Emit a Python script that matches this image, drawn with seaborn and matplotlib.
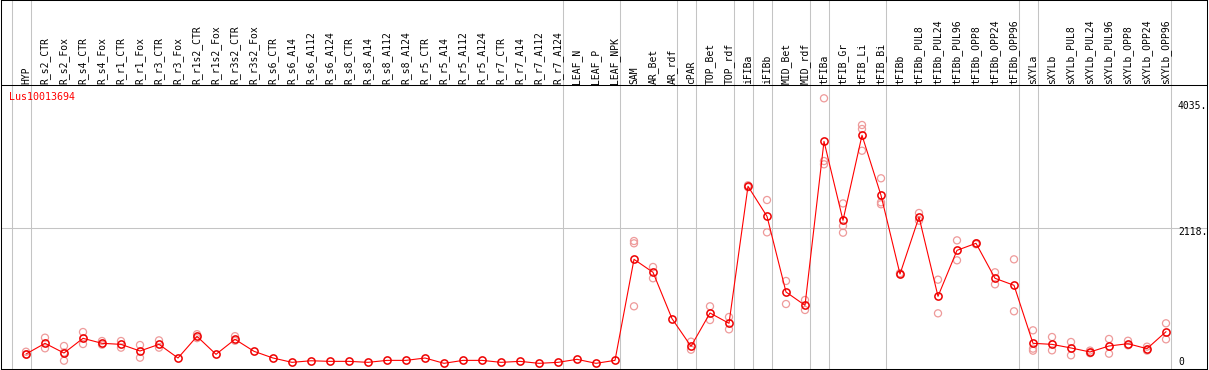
import numpy as np
import pandas as pd
import matplotlib
matplotlib.use("Agg")
import matplotlib.pyplot as plt
import seaborn as sns

categories = ["HYP", "R_s2_CTR", "R_s2_Fox", "R_s4_CTR", "R_s4_Fox", "R_r1_CTR", "R_r1_Fox",
              "R_r3_CTR", "R_r3_Fox", "R_r1s2_CTR", "R_r1s2_Fox", "R_r3s2_CTR", "R_r3s2_Fox",
              "R_s6_CTR", "R_s6_A14", "R_s6_A112", "R_s6_A124", "R_s8_CTR", "R_s8_A14", "R_s8_A112",
              "R_s8_A124", "R_r5_CTR", "R_r5_A14", "R_r5_A112", "R_r5_A124", "R_r7_CTR", "R_r7_A14",
              "R_r7_A112", "R_r7_A124", "LEAF_N", "LEAF_P", "LEAF_NPK", "SAM", "AR_Bet", "AR_rdf",
              "cPAR", "TOP_Bet", "TOP_rdf", "iFIBa", "iFIBb", "MID_Bet", "MID_rdf", "tFIBa",
              "tFIB_Gr", "tFIB_Li", "tFIB_Bi", "tFIBb", "tFIBb_PUL8", "tFIBb_PUL24", "tFIBb_PUL96",
              "tFIBb_OPP8", "tFIBb_OPP24", "tFIBb_OPP96", "sXYLa", "sXYLb", "sXYLb_PUL8",
              "sXYLb_PUL24", "sXYLb_PUL96", "sXYLb_OPP8", "sXYLb_OPP24", "sXYLb_OPP96"]

means = [198, 361, 213, 437, 361, 345, 244, 345, 137, 467,
         193, 422, 239, 137, 71, 95, 86, 86, 71, 101,
         101, 137, 56, 101, 101, 71, 86, 56, 71, 117, 56,
         101, 1641, 1443, 737, 315, 823, 666, 2754, 2296, 1143, 940,
         3439, 2235, 3531, 2616, 1417, 2286, 1077, 1778, 1885, 1352, 1245,
         361, 345, 290, 229, 320, 355, 279, 538]

rep_category = ["HYP", "HYP", "R_s2_CTR", "R_s2_CTR", "R_s2_Fox", "R_s2_Fox", "R_s2_Fox",
                "R_s4_CTR", "R_s4_CTR", "R_s4_Fox", "R_s4_Fox", "R_r1_CTR", "R_r1_CTR",
                "R_r1_Fox", "R_r1_Fox", "R_r3_CTR", "R_r3_CTR", "R_r1s2_CTR", "R_r1s2_CTR",
                "R_r3s2_CTR", "R_r3s2_CTR",
                "SAM", "SAM", "SAM", "AR_Bet", "AR_Bet", "cPAR", "cPAR", "TOP_Bet", "TOP_Bet",
                "TOP_rdf", "TOP_rdf", "iFIBa", "iFIBa", "iFIBb", "iFIBb", "MID_Bet", "MID_Bet",
                "MID_rdf", "MID_rdf", "tFIBa", "tFIBa", "tFIBa", "tFIB_Gr", "tFIB_Gr", "tFIB_Gr",
                "tFIB_Li", "tFIB_Li", "tFIB_Li", "tFIB_Bi", "tFIB_Bi", "tFIB_Bi", "tFIBb", "tFIBb",
                "tFIBb_PUL8", "tFIBb_PUL8", "tFIBb_PUL24", "tFIBb_PUL24", "tFIBb_PUL96", "tFIBb_PUL96",
                "tFIBb_OPP8", "tFIBb_OPP8", "tFIBb_OPP24", "tFIBb_OPP24", "tFIBb_OPP96", "tFIBb_OPP96",
                "sXYLa", "sXYLa", "sXYLa", "sXYLb", "sXYLb", "sXYLb_PUL8", "sXYLb_PUL8",
                "sXYLb_PUL24", "sXYLb_PUL24", "sXYLb_PUL96", "sXYLb_PUL96", "sXYLb_OPP8", "sXYLb_OPP8",
                "sXYLb_OPP24", "sXYLb_OPP24", "sXYLb_OPP96", "sXYLb_OPP96"]
rep_value = [233, 190, 447, 285, 320, 96, 220,
             533, 350, 396, 340, 396, 295,
             335, 142, 406, 295, 500, 440,
             470, 400,
             1885, 1920, 925, 1524, 1352, 386, 264, 925, 716,
             762, 574, 2770, 2740, 2545, 2052, 1311, 960,
             1021, 869, 4095, 3139, 3089, 2493, 2149, 2047,
             3688, 3627, 3296, 2876, 2510, 2480, 1417, 1430,
             2347, 2230, 1331, 818, 1930, 1626,
             1885, 1870, 1443, 1260, 1641, 849,
             559, 280, 249, 457, 254, 381, 178,
             250, 210, 427, 203, 400, 330,
             310, 250, 666, 422]

group_ends = ["HYP", "R_r7_A124", "LEAF_NPK", "AR_rdf", "cPAR", "TOP_rdf", "iFIBa", "iFIBb",
              "MID_rdf", "tFIBa", "tFIB_Bi", "tFIBb_OPP96", "sXYLa", "sXYLb_OPP96"]

ytick_values = [4035, 2118, 0]
ytick_labels = ["4035.", "2118.", "0"]
gene_name = "Lus10013694"

# ---------------------------------------------------------------------------
sns.set_theme(style="white")
plt.rcParams["font.family"] = ["DejaVu Sans Mono"]

W, H = 1209, 370
fig = plt.figure(figsize=(W / 100, H / 100), dpi=100)
ax = fig.add_axes([1 / W, 1 / H, 1206 / W, 369 / H])

pos = {c: i for i, c in enumerate(categories)}
df_mean = pd.DataFrame({"x": np.arange(len(categories)), "value": means})
df_rep = pd.DataFrame({"x": [pos[c] for c in rep_category], "value": rep_value})

px_per_val = 1 / 15.24           # pixels per unit
y0_px = 367                       # pixel row of value 0
def val_at_row(row):
    return (y0_px - row) / px_per_val

ax.set_ylim(val_at_row(369), val_at_row(0))
ax.set_xlim(-25 / 19, 1181 / 19)

grid_c = "#c4c4c4"
lw1 = 0.75
for g in ["__start__"] + group_ends:
    xv = (pos[g] if g in pos else -1) + 5 / 19
    ax.axvline(xv, color=grid_c, lw=lw1, zorder=0)
ax.axhline(2118, color=grid_c, lw=lw1, zorder=0)

header_val = val_at_row(85)
ax.axhline(header_val, color="black", lw=lw1, zorder=1)

sns.scatterplot(data=df_rep, x="x", y="value", ax=ax, s=26, marker="o",
                facecolors="none", edgecolor="#ee9a9a", linewidth=0.9, zorder=2, legend=False)
sns.lineplot(data=df_mean, x="x", y="value", ax=ax, color="#ff0000", lw=0.8, zorder=3,
             marker="o", markersize=5.2, markerfacecolor="none", markeredgecolor="#ee0000",
             markeredgewidth=1.1, legend=False)

for i, c in enumerate(categories):
    ax.text(i, val_at_row(84), c, rotation=90, ha="center", va="bottom",
            fontsize=7, color="black", family="DejaVu Sans Mono")

xlab = (1178 - 26) / 19
offsets = {4035: -4, 2118: -4, 0: 5}
for v, lab in zip(ytick_values, ytick_labels):
    ax.annotate(lab, xy=(xlab, v), xytext=(0, offsets[v] * 0.72), textcoords="offset points",
                ha="left", va="center", fontsize=7, color="black", family="DejaVu Sans Mono")

ax.text(8 / 1206, 1 - 97 / 369, gene_name, transform=ax.transAxes, ha="left", va="center",
        fontsize=7.2, color="#ff0000", family="DejaVu Sans Mono")

ax.set_xlabel("")
ax.set_ylabel("")
ax.set_xticks([])
ax.set_yticks([])
for s in ax.spines.values():
    s.set_color("black")
    s.set_linewidth(lw1)

fig.savefig("out.png", dpi=100)
